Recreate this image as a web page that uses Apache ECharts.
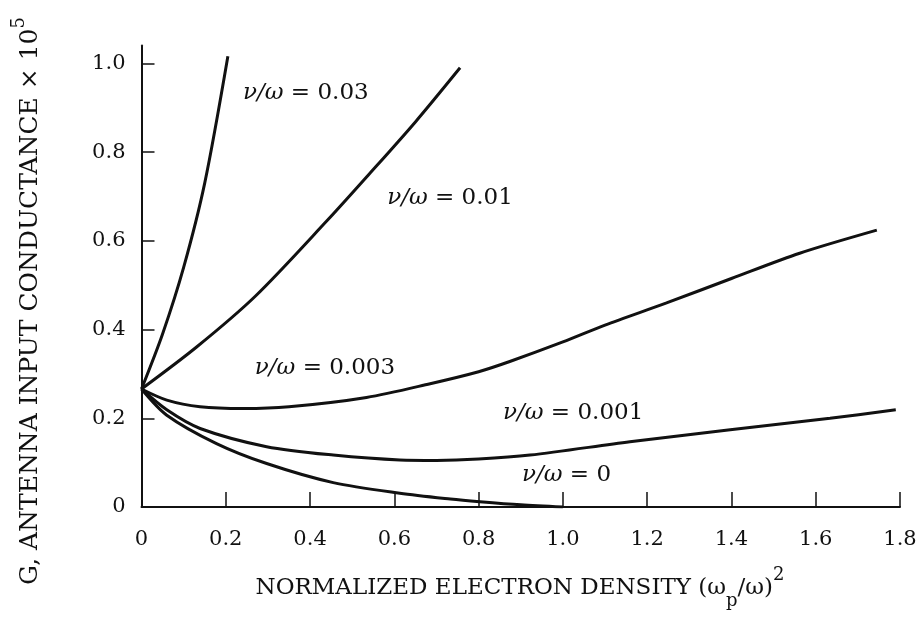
<!DOCTYPE html>
<html>
<head>
<meta charset="utf-8">
<script src="https://cdn.jsdelivr.net/npm/echarts@6/dist/echarts.min.js"></script>
<style>
  html, body { margin: 0; padding: 0; background: #fff; }
  #chart { width: 923px; height: 621px; }
</style>
</head>
<body>
<div id="chart"></div>
<script>
// Antenna input conductance vs normalized electron density, one curve per collision ratio ν/ω
const collisionRatios = ['0.03', '0.01', '0.003', '0.001', '0'];

const x003 = [0, 0.05, 0.10, 0.15, 0.205];
const y003 = [0.266, 0.39, 0.54, 0.73, 1.016];

const x001 = [0, 0.13, 0.27, 0.44, 0.54, 0.65, 0.756];
const y001 = [0.266, 0.36, 0.475, 0.645, 0.75, 0.868, 0.99];

const x0003 = [0, 0.06, 0.139, 0.242, 0.35, 0.534, 0.685, 0.80, 0.874, 1.0, 1.1, 1.246, 1.40, 1.562, 1.745];
const y0003 = [0.266, 0.241, 0.226, 0.222, 0.226, 0.247, 0.278, 0.305, 0.328, 0.372, 0.41, 0.46, 0.515, 0.572, 0.624];

const x0001 = [0, 0.06, 0.139, 0.297, 0.455, 0.613, 0.70, 0.80, 0.922, 1.159, 1.397, 1.634, 1.79];
const y0001 = [0.266, 0.219, 0.177, 0.136, 0.117, 0.106, 0.105, 0.108, 0.117, 0.147, 0.174, 0.20, 0.219];

const x0 = [0, 0.06, 0.178, 0.297, 0.455, 0.613, 0.733, 0.803, 0.90, 1.0];
const y0 = [0.266, 0.207, 0.143, 0.098, 0.055, 0.031, 0.018, 0.012, 0.005, 0];

const xTickLabels = [0, 0.2, 0.4, 0.6, 0.8, 1.0, 1.2, 1.4, 1.6, 1.8];
const yTickLabels = [0, 0.2, 0.4, 0.6, 0.8, 1.0];

const curves = [[x003, y003], [x001, y001], [x0003, y0003], [x0001, y0001], [x0, y0]];

// where each curve's caption starts (left edge, vertical middle), in axis units
const captionAnchors = [[0.241, 0.933], [0.583, 0.696], [0.269, 0.313], [0.858, 0.212], [0.903, 0.072]];

const FONT = '"DejaVu Serif", "Liberation Serif", serif';
const INK = '#111';

const pairs = (xs, ys) => xs.map((x, i) => [x, ys[i]]);

const chart = echarts.init(document.getElementById('chart'), null, { renderer: 'canvas' });

const option = {
  animation: false,
  backgroundColor: '#fff',
  grid: { left: 141.5, right: 23, top: 45.6, bottom: 114 },
  xAxis: {
    type: 'value',
    min: 0, max: 1.8, interval: 0.2,
    axisLine: { show: true, lineStyle: { color: INK, width: 2 } },
    axisTick: { show: true, inside: true, length: 15, lineStyle: { color: INK, width: 1.5 },
      customValues: xTickLabels.filter(v => v > 0) },
    axisLabel: { color: INK, fontFamily: FONT, fontSize: 21, margin: 22,
      customValues: xTickLabels,
      formatter: v => (v === 0 ? '0' : v.toFixed(1)) },
    splitLine: { show: false }
  },
  yAxis: {
    type: 'value',
    min: 0, max: 1.04,
    axisLine: { show: true, lineStyle: { color: INK, width: 2 } },
    axisTick: { show: true, inside: true, length: 13, lineStyle: { color: INK, width: 1.5 },
      customValues: yTickLabels.filter(v => v > 0) },
    axisLabel: { color: INK, fontFamily: FONT, fontSize: 21, margin: 16,
      customValues: yTickLabels,
      formatter: v => (v === 0 ? '0' : v.toFixed(1)) },
    splitLine: { show: false }
  },
  series: curves.map((c, i) => ({
    name: 'ν/ω = ' + collisionRatios[i],
    type: 'line',
    data: pairs(c[0], c[1]),
    showSymbol: false,
    smooth: 0.3,
    lineStyle: { color: INK, width: 3 },
    silent: true
  }))
};

chart.setOption(option);

// curve captions and axis titles
const graphics = collisionRatios.map((r, i) => {
  const p = chart.convertToPixel({ gridIndex: 0 }, captionAnchors[i]);
  return {
    type: 'text',
    x: p[0], y: p[1],
    style: {
      text: '{i|ν/ω} = ' + r,
      fontFamily: FONT, fontSize: 23, fill: INK,
      verticalAlign: 'middle', align: 'left',
      rich: { i: { fontFamily: FONT, fontSize: 23, fontStyle: 'italic', fill: INK } }
    }
  };
});

graphics.push({
  type: 'text',
  x: 520, y: 588,
  style: {
    text: '{a|NORMALIZED ELECTRON DENSITY (ω}{sub|p}{a|/ω)}{sup|2}',
    align: 'center', verticalAlign: 'middle',
    fill: INK,
    rich: {
      a: { fontFamily: FONT, fontSize: 23, fill: INK, lineHeight: 44, verticalAlign: 'middle' },
      sub: { fontFamily: FONT, fontSize: 18, fill: INK, lineHeight: 40, verticalAlign: 'bottom' },
      sup: { fontFamily: FONT, fontSize: 18, fill: INK, lineHeight: 40, verticalAlign: 'top' }
    }
  }
});

graphics.push({
  type: 'text',
  x: 30, y: 301,
  rotation: Math.PI / 2,
  style: {
    text: '{a|G, ANTENNA INPUT CONDUCTANCE × 10}{sup|5}',
    align: 'center', verticalAlign: 'middle',
    fill: INK,
    rich: {
      a: { fontFamily: FONT, fontSize: 25, fill: INK, lineHeight: 40, verticalAlign: 'middle' },
      sup: { fontFamily: FONT, fontSize: 18, fill: INK, lineHeight: 36, verticalAlign: 'top' }
    }
  }
});

chart.setOption({ graphic: graphics });
</script>
</body>
</html>
